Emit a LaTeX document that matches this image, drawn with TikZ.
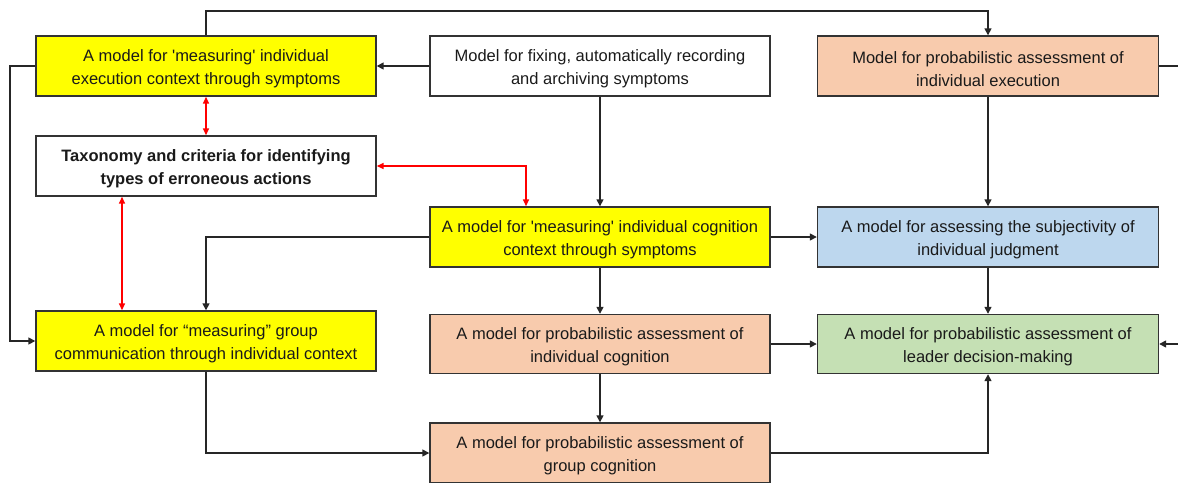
\documentclass[tikz,border=0pt]{standalone}
\usepackage{fontspec}
\setmainfont{Liberation Sans}
\usetikzlibrary{arrows.meta,calc}

\definecolor{boxyellow}{HTML}{FFFF00}
\definecolor{boxpeach}{HTML}{F8CBAD}
\definecolor{boxblue}{HTML}{BDD7EE}
\definecolor{boxgreen}{HTML}{C5E0B4}
\definecolor{edgegray}{HTML}{333333}
\definecolor{textdark}{HTML}{1A1A1A}

\newcommand{\sq}{\textquotesingle}

\tikzset{
  modelbox/.style={draw=edgegray, line width=1.4pt, rectangle, inner sep=0pt,
    minimum width=340pt, minimum height=60pt},
  boxtext/.style={align=center, inner sep=0pt, yshift=-3pt,
    text=textdark, font=\fontsize{16.5}{23}\selectfont},
  boldtext/.style={boxtext, font=\bfseries\fontsize{16.5}{23}\selectfont},
  flow/.style={draw=black!85, line width=1.5pt, -{Triangle[length=7pt,width=7pt]}},
  plainline/.style={draw=black!85, line width=1.5pt},
  link/.style={draw=red, line width=1.5pt,
    {Triangle[length=7pt,width=6pt]}-{Triangle[length=7pt,width=6pt]}},
}

\begin{document}
\begin{tikzpicture}[x=1pt, y=-1pt]
\useasboundingbox (0,0) rectangle (1178,482);
\clip (0,0) rectangle (1178,482);
\fill[white] (0,0) rectangle (1178,482);

% boxes, each with its two-line caption set slightly below the centre
\node[modelbox, fill=boxyellow,
  label={[boxtext]center:{A model for \sq measuring\sq\ individual\\execution context through symptoms}}]
  (A) at (206,66) {};
\node[modelbox, fill=white,
  label={[boxtext]center:{Model for fixing, automatically recording\\and archiving symptoms}}]
  (B) at (600,66) {};
\node[modelbox, fill=boxpeach, minimum width=341pt,
  label={[boxtext]center:{Model for probabilistic assessment of\\individual execution}}]
  (C) at (988,66) {};
\node[modelbox, fill=white,
  label={[boldtext]center:{Taxonomy and criteria for identifying\\types of erroneous actions}}]
  (D) at (206,166) {};
\node[modelbox, fill=boxyellow,
  label={[boxtext]center:{A model for \sq measuring\sq\ individual cognition\\context through symptoms}}]
  (E) at (600,237) {};
\node[modelbox, fill=boxblue, minimum width=341pt,
  label={[boxtext]center:{A model for assessing the subjectivity of\\individual judgment}}]
  (F) at (988,237) {};
\node[modelbox, fill=boxyellow,
  label={[boxtext]center:{A model for “measuring” group\\communication through individual context}}]
  (G) at (206,341) {};
\node[modelbox, fill=boxpeach, minimum height=59pt,
  label={[boxtext]center:{A model for probabilistic assessment of\\individual cognition}}]
  (H) at (600,344) {};
\node[modelbox, fill=boxgreen, minimum width=341pt, minimum height=59pt,
  label={[boxtext]center:{A model for probabilistic assessment of\\leader decision-making}}]
  (I) at (988,344) {};
\node[modelbox, fill=boxpeach,
  label={[boxtext]center:{A model for probabilistic assessment of\\group cognition}}]
  (J) at (600,453) {};

% routing points
\coordinate (topbus) at (600,11);
\coordinate (leftbus) at (10,200);
\coordinate (rightout) at (1185,66);
\coordinate (rightin) at (1185,344);
\coordinate (redleft) at (122,0);
\coordinate (redmid) at (526,0);

% black flow connectors
\draw[flow] (A.north) |- (topbus) -| (C.north);
\draw[flow] (B.west) -- (A.east);
\draw[plainline] (C.east) -- (rightout);
\draw[flow] (rightin) -- (I.east);
\draw[flow] (A.west) -| (leftbus) |- (G.west);
\draw[flow] (B.south) -- (E.north);
\draw[flow] (C.south) -- (F.north);
\draw[flow] (E.east) -- (F.west);
\draw[flow] (E.west) -| (G.north);
\draw[flow] (E.south) -- (H.north);
\draw[flow] (H.east) -- (I.west);
\draw[flow] (F.south) -- (I.north);
\draw[flow] (G.south) |- (J.west);
\draw[flow] (H.south) -- (J.north);
\draw[flow] (J.east) -| (I.south);

% red two-way links of the taxonomy
\draw[link] (A.south) -- (D.north);
\draw[link] (D.east) -| (E.north -| redmid);
\draw[link] (D.south -| redleft) -- (G.north -| redleft);
\end{tikzpicture}
\end{document}
